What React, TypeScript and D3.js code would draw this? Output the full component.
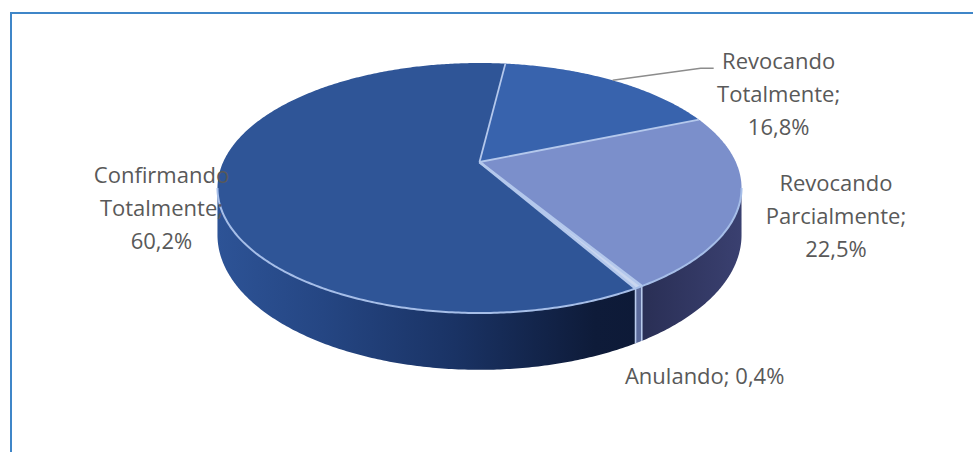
import React from "react";
import * as d3 from "d3";

const categories = ["Revocando Totalmente", "Revocando Parcialmente", "Anulando", "Confirmando Totalmente"];
const values = [16.8, 22.5, 0.4, 60.2];
const labelLines = [
  ["Revocando", "Totalmente;", "16,8%"],
  ["Revocando", "Parcialmente;", "22,5%"],
  ["Anulando; 0,4%"],
  ["Confirmando", "Totalmente;", "60,2%"],
];
const topColors = ["#3863ad", "#7b8fcb", "#c9d6ef", "#2f5597"];
const sideColors = ["#2c4f8f", "url(#sideRP)", "#5b6a9a", "url(#sideCT)"];

const W = 973;
const H = 452;
const CX = 479.5;
const CY = 162;
const A = 256.3;
const B = 119.6;
const K = 0.208;
const D = 45;
const START = (7 * Math.PI) / 180;

function proj(theta: number, h = 0, r = 1): [number, number] {
  const u = r * Math.sin(theta);
  const v = -r * Math.cos(theta);
  const w = 1 - K * v;
  return [CX + (A * u) / w, CY + (B * v + D * h) / w];
}

function samples(a0: number, a1: number, h = 0): [number, number][] {
  const n = Math.max(2, Math.ceil(Math.abs(a1 - a0) / 0.01));
  return d3.range(n + 1).map((i) => proj(a0 + ((a1 - a0) * i) / n, h));
}

const line = d3.line<[number, number]>();

// label placement offsets relative to the rim point at each slice's mid angle
const labelLayout = [
  { dx: 166, dy: -11 },
  { dx: 96, dy: -11 },
  { dx: 66, dy: 97 },
  { dx: -56, dy: -4 },
];

export default function App() {
  const pie = d3
    .pie<number>()
    .sort(null)
    .value((d) => d)
    .startAngle(START)
    .endAngle(START + 2 * Math.PI);
  const arcs = pie(values);

  const visA = Math.acos(-K); // right extreme
  const visB = 2 * Math.PI - visA; // left extreme

  const sides: { i: number; s0: number; s1: number }[] = [];
  arcs.forEach((a, i) => {
    [0, 2 * Math.PI].forEach((off) => {
      const s0 = Math.max(a.startAngle, visA + off);
      const s1 = Math.min(a.endAngle, visB + off);
      if (s1 > s0) sides.push({ i, s0, s1 });
    });
  });

  const [lx0] = proj(visB);
  const [lx1] = proj(visA);

  return (
    <svg width={W} height={H} style={{ position: "absolute", left: 0, top: 0, background: "#fff" }}>
      <defs>
        <linearGradient id="sideCT" gradientUnits="userSpaceOnUse" x1={lx0} y1={0} x2={lx1} y2={0}>
          <stop offset="0" stopColor="#2d5396" />
          <stop offset="0.2" stopColor="#254683" />
          <stop offset="0.45" stopColor="#1a3365" />
          <stop offset="0.72" stopColor="#0e1b39" />
          <stop offset="1" stopColor="#0c1733" />
        </linearGradient>
        <linearGradient id="sideRP" gradientUnits="userSpaceOnUse" x1={620} y1={0} x2={lx1} y2={0}>
          <stop offset="0" stopColor="#262b4f" />
          <stop offset="1" stopColor="#3a4070" />
        </linearGradient>
      </defs>
      <rect x={11} y={13} width={W + 20} height={H + 20} fill="none" stroke="#3f86c8" strokeWidth={2} />

      {sides.map((s, k) => {
        const top = samples(s.s0, s.s1, 0);
        const bot = samples(s.s1, s.s0, 1);
        return <path key={"side" + k} d={line([...top, ...bot])! + "Z"} fill={sideColors[s.i]} />;
      })}

      {sides
        .filter((s) => s.i === 2)
        .map((s, k) => (
          <g key={"an" + k}>
            {[s.s0, s.s1].map((a, j) => (
              <path key={j} d={line([proj(a, 0), proj(a, 1)])!} stroke="#b9cbec" strokeWidth={1.6} fill="none" />
            ))}
          </g>
        ))}

      {arcs.map((a, i) => (
        <path
          key={"top" + i}
          d={line([[CX, CY], ...samples(a.startAngle, a.endAngle, 0)])! + "Z"}
          fill={topColors[i]}
        />
      ))}

      <path d={line(samples(visA, visB, 0))!} stroke="#a6bee8" strokeWidth={2} fill="none" />

      {arcs.map((a, i) => (
        <path
          key={"edge" + i}
          d={line([[CX, CY], proj(a.startAngle)])!}
          stroke="#b4c8ec"
          strokeWidth={i === 2 || i === 3 ? 2.6 : 1.8}
          fill="none"
        />
      ))}

      {(() => {
        const a = arcs[0];
        const mid = (a.startAngle + a.endAngle) / 2;
        const p = proj(mid);
        const q: [number, number] = [p[0] + 88, p[1] - 12];
        const r: [number, number] = [p[0] + 101, p[1] - 12];
        return <path d={line([p, q, r])!} stroke="#8c8c8c" strokeWidth={1.5} fill="none" />;
      })()}

      {arcs.map((a, i) => {
        const mid = (a.startAngle + a.endAngle) / 2;
        const p = proj(mid);
        const L = labelLayout[i];
        const x = p[0] + L.dx;
        const y = p[1] + L.dy;
        return (
          <text
            key={"lab" + i}
            x={x}
            y={y}
            textAnchor="middle"
            fontFamily="'Open Sans', 'Noto Sans', sans-serif"
            fontSize={22}
            fill="#595959"
          >
            {labelLines[i].map((t, j) => (
              <tspan key={j} x={x} y={y + j * 33}>
                {t}
              </tspan>
            ))}
          </text>
        );
      })}
    </svg>
  );
}
